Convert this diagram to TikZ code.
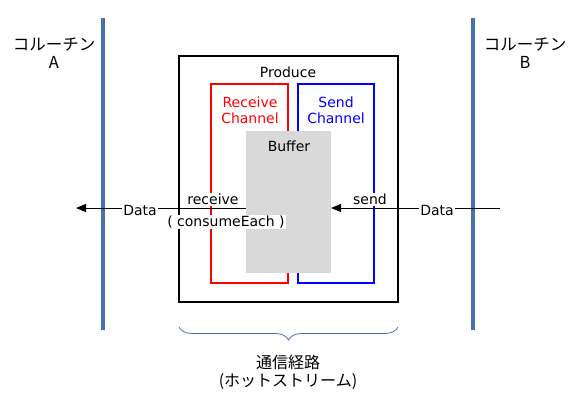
\documentclass[tikz,border=0pt]{standalone}
\usepackage{fontspec}
\setmainfont{Noto Sans CJK JP}
\newfontfamily\latinfont{DejaVu Sans}
\usetikzlibrary{arrows.meta,decorations.pathreplacing}
\definecolor{barblue}{RGB}{70,114,176}
\definecolor{bufgray}{RGB}{217,217,217}
\tikzset{
  lbl/.style={font=\latinfont\fontsize{14}{16}\selectfont, inner sep=1pt, align=center},
  jlbl/.style={font=\fontsize{16.5}{17.5}\selectfont, inner sep=1pt, align=center},
  wlbl/.style={lbl, fill=white},
  bar/.style={line width=4pt, barblue},
  flow/.style={line width=1pt, -{Triangle[length=10pt,width=8pt]}},
}
\begin{document}
\begin{tikzpicture}[x=1pt,y=-1pt]
\useasboundingbox (0,0) rectangle (577,406);
% coroutine bars
\coordinate (a1) at (103,18); \coordinate (a2) at (103,330);
\coordinate (b1) at (473,18); \coordinate (b2) at (473,330);
\draw[bar] (a1) -- (a2);
\draw[bar] (b1) -- (b2);
\node[jlbl] (coA) at (54,53) {コルーチン\\A};
\node[jlbl] (coB) at (525,53) {コルーチン\\B};
% produce box
\draw[line width=1.5pt] (179,56) rectangle (398,302);
\node[lbl] (produce) at (288,72) {Produce};
% channels
\draw[red, line width=1.5pt] (211,84) rectangle (288,283);
\draw[blue, line width=1.5pt] (298,84) rectangle (374,283);
\node[lbl, red] (recv) at (250,110) {Receive\\Channel};
\node[lbl, blue] (send) at (336,110) {Send\\Channel};
% buffer
\fill[bufgray] (246,131) rectangle (331,273);
\node[lbl] (buffer) at (289,146) {Buffer};
\coordinate (bufL) at (246,208);
\coordinate (bufR) at (331,208);
% flows
\coordinate (leftEnd) at (76,208);
\coordinate (rightStart) at (500,208);
\draw[flow] (bufL) -- (leftEnd);
\draw[flow] (rightStart) -- (bufR);
\node[wlbl] (dataL) at (140,210) {Data};
\node[wlbl] (dataR) at (437,210) {Data};
\node[wlbl, anchor=south] (receive) at (213,206) {receive};
\node[wlbl] (consume) at (226,222) {( consumeEach )};
\node[wlbl, anchor=south] (sendlbl) at (370,206) {send};
% brace
\draw[barblue, line width=0.8pt, decorate, decoration={brace, mirror, amplitude=13pt}] (179,327) -- (398,327);
\node[jlbl, font=\fontsize{16}{18}\selectfont] (route) at (288,372) {通信経路\\(ホットストリーム)};
\end{tikzpicture}
\end{document}
